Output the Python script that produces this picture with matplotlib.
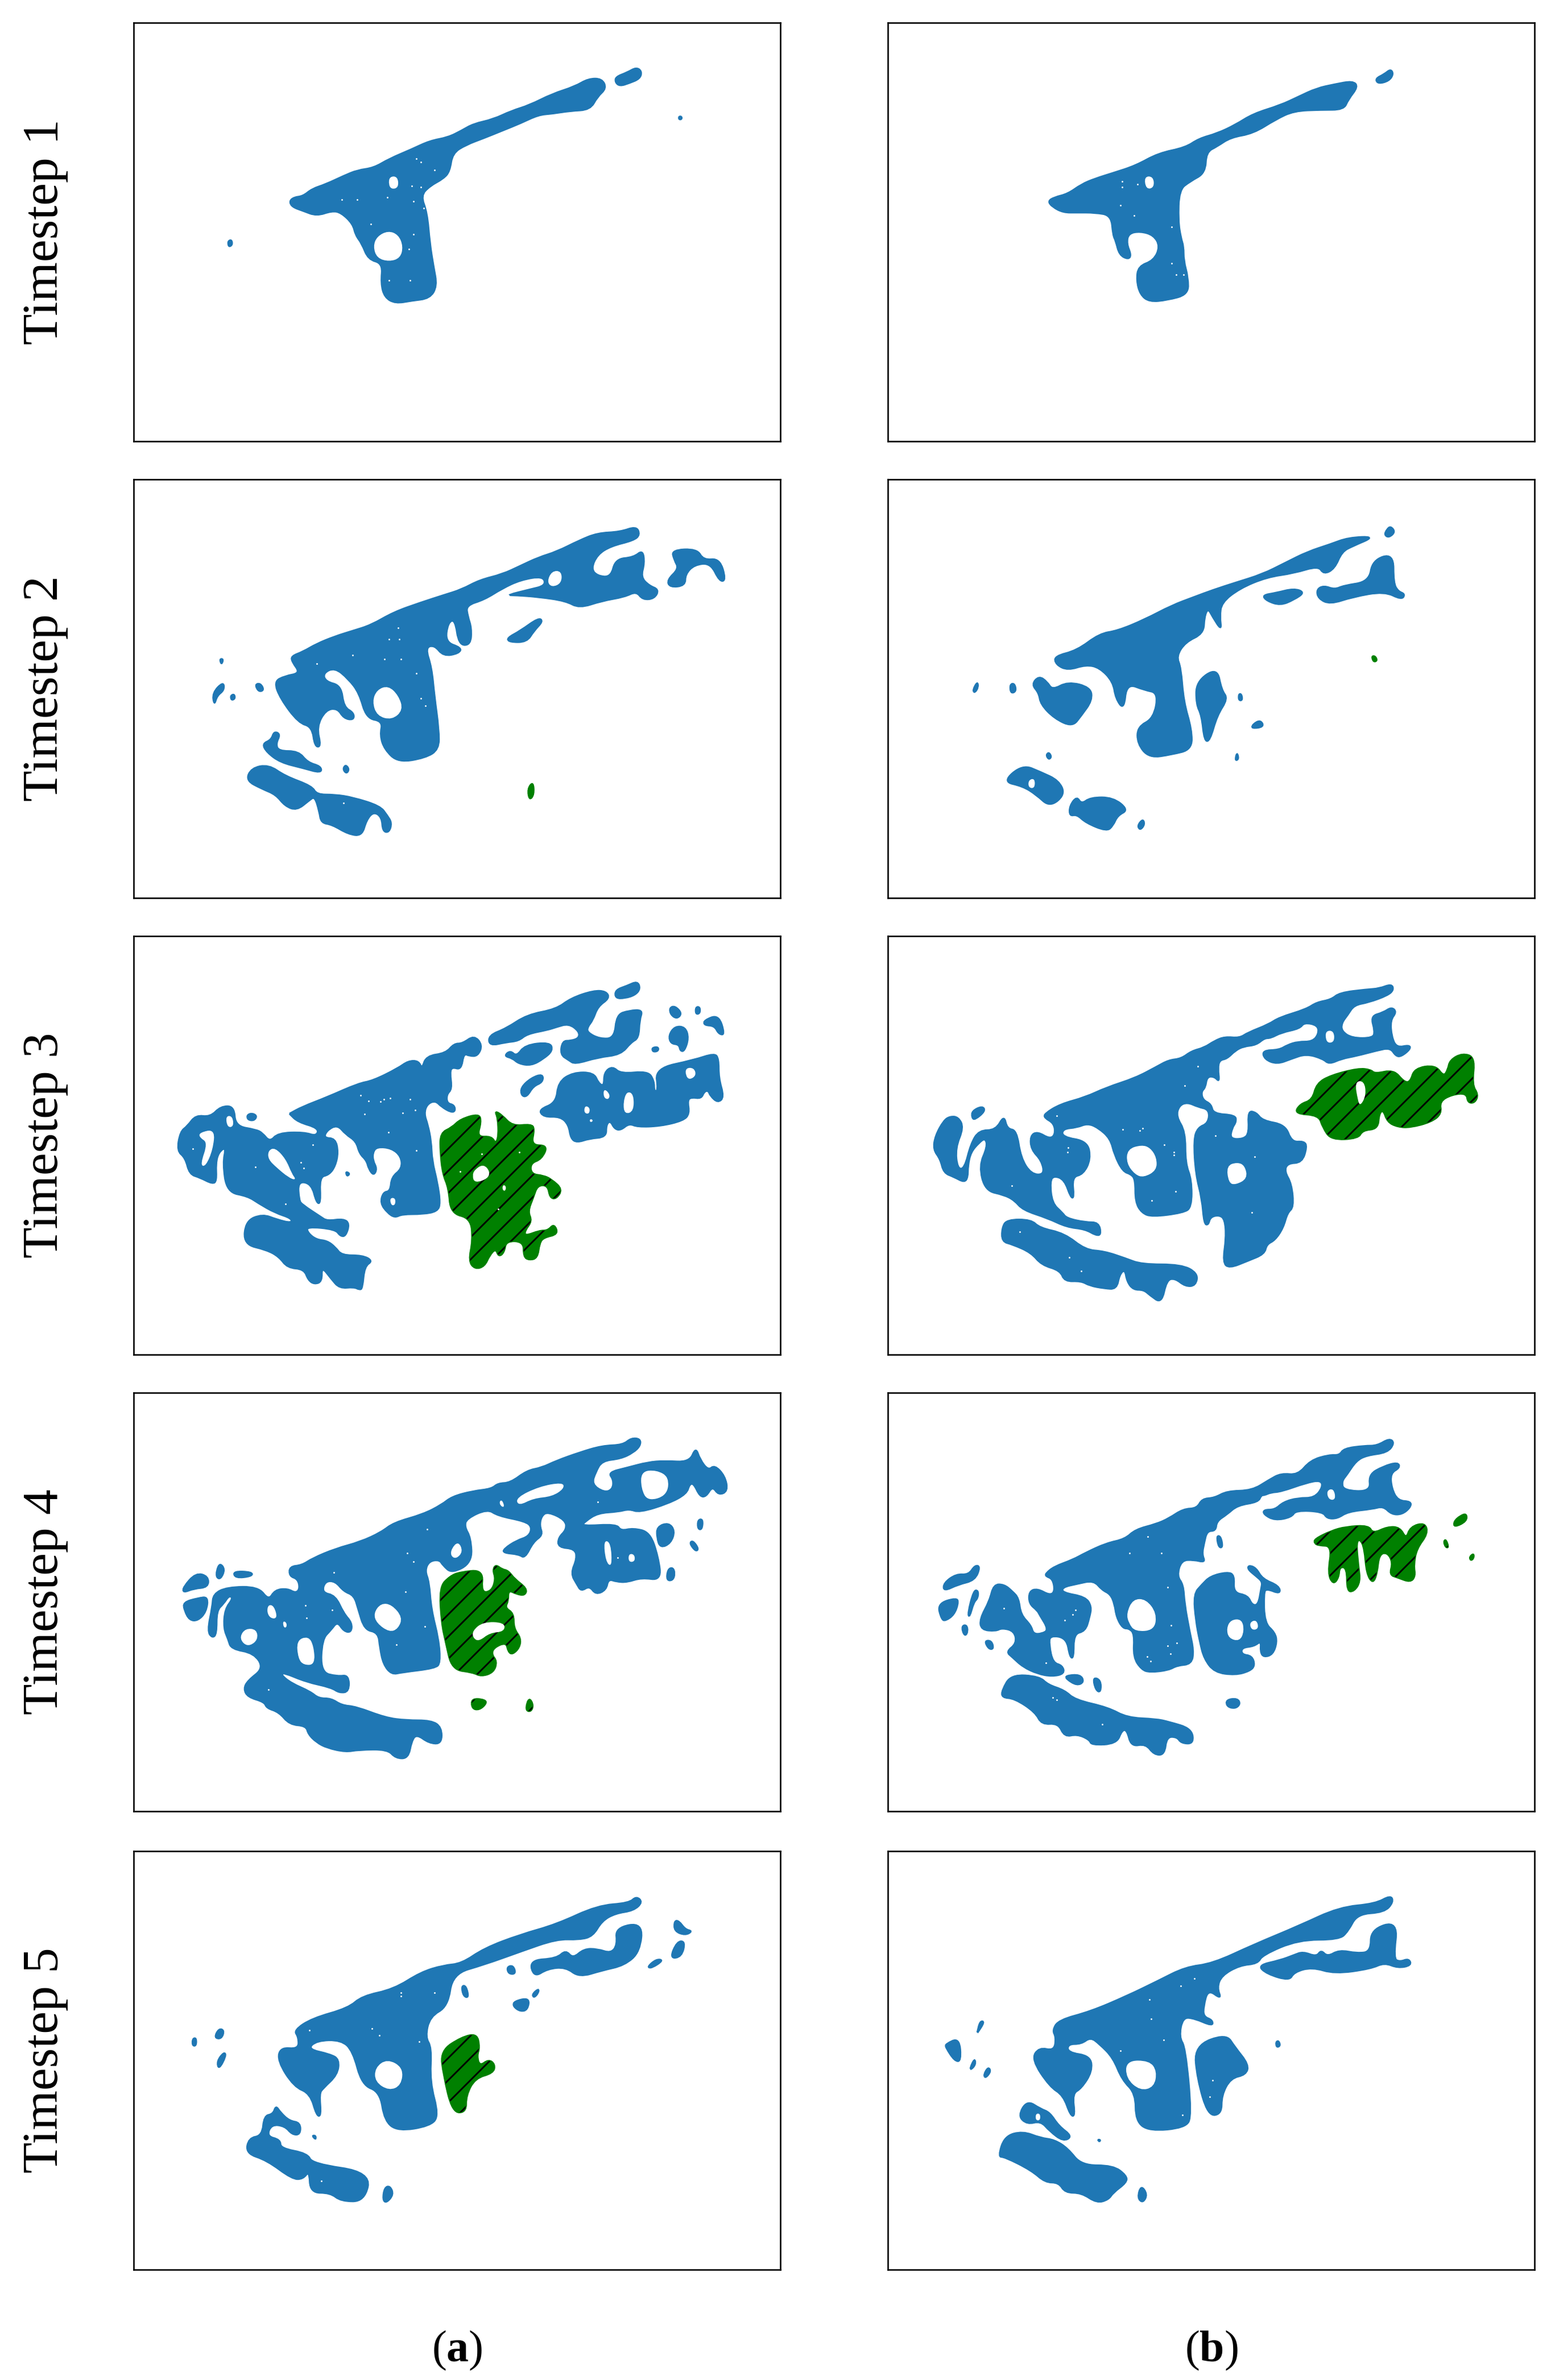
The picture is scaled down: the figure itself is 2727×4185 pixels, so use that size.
# -*- coding: utf-8 -*-
import matplotlib
matplotlib.use('Agg')
import matplotlib.pyplot as plt
from matplotlib.patches import PathPatch
from matplotlib.path import Path

plt.rcParams['font.family'] = ['Liberation Serif', 'DejaVu Serif']
plt.rcParams['mathtext.fontset'] = 'custom'
plt.rcParams['mathtext.rm'] = 'Liberation Serif'
plt.rcParams['mathtext.bf'] = 'Liberation Serif:bold'
plt.rcParams['hatch.linewidth'] = 0.9

BLUE = '#1f77b4'
row_labels = ['Timestep 1', 'Timestep 2', 'Timestep 3', 'Timestep 4', 'Timestep 5']
col_labels = [r'($\mathbf{a}$)', r'($\mathbf{b}$)']

# ---- outlines, each panel in its own units ----
# timestep 1
t1a_blue = [
    [(175,325),(180,318),(190,316),(200,303),(215,295),(235,280),(250,270),(268,266),(285,250),(310,233),(330,218),(350,212),(365,200),(378,188),(400,180),(420,165),(440,155),(465,135),(490,122),(505,108),(520,108),(525,125),(515,140),(507,163),(485,165),(465,170),(450,172),(430,187),(410,200),(390,213),(370,225),(355,240),(352,272),(345,285),(330,298),(320,315),(327,345),(330,400),(334,440),(338,475),(330,497),(310,501),(292,506),(280,495),(276,470),(278,435),(262,428),(255,400),(248,385),(245,365),(232,345),(222,342),(205,351),(190,342),(178,335)],
    [(535,105),(548,97),(558,88),(564,95),(562,108),(550,116),(540,121),(535,115)],
    [(605,175),(608,175),(608,180),(605,180)],
    [(107,396),(111,393),(112,402),(108,406)],
]
t1a_holes = [
    [(284,378),(295,385),(300,405),(297,425),(285,431),(272,425),(268,405),(272,388)],
    [(286,282),(294,282),(295,300),(288,303),(285,295)],
]
t1a_specks = [(315,250),(320,256),(335,270),(310,298),(320,300),(233,322),(250,322),(283,318),(312,325),(323,337),(265,365),(312,384),(307,410),(285,465),(308,465)]
t1b_blue = [
    [(1013,325),(1020,318),(1035,312),(1050,295),(1065,285),(1085,275),(1110,262),(1135,240),(1165,230),(1180,214),(1200,205),(1220,190),(1240,170),(1270,155),(1290,140),(1310,125),(1330,118),(1350,112),(1356,122),(1345,145),(1340,163),(1315,163),(1285,165),(1265,180),(1240,205),(1215,212),(1200,228),(1188,238),(1187,275),(1170,290),(1158,305),(1157,360),(1160,390),(1163,405),(1163,430),(1168,460),(1168,490),(1145,500),(1125,503),(1115,490),(1111,465),(1113,440),(1130,430),(1137,405),(1130,385),(1115,378),(1102,382),(1100,400),(1105,420),(1102,428),(1092,420),(1088,395),(1085,385),(1083,350),(1065,345),(1045,345),(1030,345),(1018,335)],
    [(1375,108),(1385,100),(1392,91),(1395,100),(1390,112),(1378,117)],
]
t1b_holes = [[(1120,282),(1129,282),(1130,300),(1122,303)]]
t1b_specks = [(1095,290),(1095,300),(1112,295),(1093,332),(1108,350),(1150,370),(1150,435),(1155,455),(1163,455)]

# timestep 2
t2a_blue = [
    [(177,1130),(190,1122),(205,1108),(225,1095),(245,1085),(265,1075),(290,1052),(320,1035),(345,1022),(365,1012),(385,995),(410,985),(430,970),(450,955),(470,945),(495,925),(515,912),(540,910),(558,900),(562,915),(555,925),(530,935),(515,950),(508,975),(515,988),(530,990),(535,958),(555,955),(565,942),(567,965),(563,990),(572,1005),(583,1012),(578,1028),(565,1030),(558,1015),(545,1025),(520,1032),(495,1045),(480,1032),(450,1025),(425,1022),(415,1022),(440,1012),(458,1005),(455,988),(430,995),(410,1010),(390,1030),(370,1040),(372,1060),(376,1080),(375,1110),(362,1110),(358,1065),(350,1070),(347,1105),(365,1115),(362,1125),(345,1130),(335,1110),(325,1115),(332,1150),(335,1200),(340,1260),(340,1295),(325,1310),(295,1318),(280,1295),(275,1270),(278,1245),(260,1240),(252,1195),(240,1170),(225,1150),(212,1160),(215,1175),(232,1182),(235,1220),(246,1230),(246,1243),(235,1240),(228,1222),(215,1225),(205,1255),(210,1290),(203,1290),(200,1255),(185,1248),(165,1205),(158,1175),(170,1165),(187,1160),(178,1140)],
    [(597,942),(625,940),(632,960),(650,957),(657,995),(650,998),(640,965),(622,968),(612,985),(612,1005),(595,1008),(592,995),(605,975),(600,960)],
    [(415,1098),(430,1085),(450,1062),(455,1068),(445,1085),(437,1105),(418,1105)],
    [(98,1135),(102,1135),(100,1145)],
    [(137,1180),(143,1178),(147,1190),(141,1193)],
    [(90,1195),(102,1175),(103,1190),(95,1200),(92,1217)],
    [(110,1200),(114,1197),(115,1205),(111,1208)],
    [(145,1285),(155,1278),(158,1263),(165,1268),(160,1285),(163,1298),(185,1298),(195,1318),(210,1325),(210,1337),(190,1328),(165,1318),(150,1300)],
    [(237,1322),(241,1330),(238,1338),(234,1330)],
    [(127,1350),(133,1328),(152,1322),(170,1342),(200,1360),(205,1375),(225,1375),(245,1380),(275,1395),(283,1412),(288,1425),(285,1442),(278,1440),(277,1415),(268,1405),(260,1420),(255,1448),(240,1445),(222,1428),(210,1425),(208,1405),(203,1378),(197,1385),(183,1403),(170,1395),(160,1375),(145,1365)],
]
t2a_holes = [
    [(465,980),(475,980),(475,1000),(465,1007),(460,998)],
    [(284,1183),(295,1200),(300,1225),(288,1242),(272,1235),(267,1210),(272,1190)],
]
t2a_green = [[(438,1365),(444,1352),(445,1375),(440,1385)]]
t2a_specks = [(295,1080),(285,1100),(296,1100),(205,1143),(245,1128),(280,1135),(298,1135),(315,1160),(320,1205),(325,1218),(235,1390)]
t2b_blue = [
    [(1020,1130),(1045,1120),(1070,1090),(1090,1085),(1120,1065),(1150,1040),(1175,1025),(1195,1013),(1220,1000),(1250,985),(1275,965),(1300,945),(1325,932),(1345,920),(1375,918),(1350,935),(1338,945),(1330,975),(1318,985),(1312,970),(1285,983),(1255,990),(1225,1010),(1205,1035),(1203,1060),(1205,1085),(1195,1060),(1190,1045),(1186,1060),(1185,1090),(1165,1105),(1155,1130),(1160,1150),(1163,1210),(1172,1260),(1172,1295),(1150,1304),(1125,1310),(1112,1285),(1112,1255),(1130,1240),(1135,1195),(1120,1190),(1100,1178),(1097,1225),(1088,1205),(1085,1175),(1070,1150),(1055,1145),(1035,1155),(1022,1145)],
    [(1250,1022),(1265,1018),(1285,1010),(1297,1017),(1285,1030),(1270,1040),(1255,1032)],
    [(1310,1012),(1318,1005),(1330,1012),(1340,1005),(1368,998),(1372,960),(1395,948),(1395,1000),(1400,1015),(1408,1020),(1404,1030),(1385,1015),(1350,1025),(1325,1038),(1312,1028)],
    [(1388,905),(1392,900),(1397,910),(1390,920),(1385,915)],
    [(930,1190),(935,1175),(936,1185),(932,1195)],
    [(971,1180),(976,1178),(978,1192),(972,1196)],
    [(1224,1197),(1227,1197),(1228,1208),(1224,1208)],
    [(1240,1250),(1248,1243),(1252,1255),(1238,1258)],
    [(1014,1300),(1017,1308),(1014,1313),(1011,1305)],
    [(1222,1300),(1224,1312),(1220,1315)],
    [(995,1180),(1003,1165),(1012,1175),(1018,1190),(1035,1175),(1060,1185),(1062,1208),(1050,1235),(1040,1255),(1020,1240),(1005,1215),(1003,1195)],
    [(1177,1175),(1200,1150),(1205,1190),(1212,1205),(1200,1235),(1192,1280),(1186,1280),(1183,1235),(1177,1215)],
    [(963,1352),(985,1322),(1005,1335),(1025,1350),(1032,1375),(1015,1397),(1000,1375),(985,1360)],
    [(1037,1395),(1045,1378),(1050,1392),(1060,1380),(1085,1380),(1102,1402),(1090,1412),(1085,1430),(1078,1440),(1055,1425),(1045,1410),(1037,1413)],
    [(1112,1430),(1118,1418),(1120,1428),(1115,1438)],
]
t2b_holes = [
    [(992,1350),(998,1347),(998,1363),(992,1362)],
]
t2b_green = [[(1371,1130),(1375,1130),(1377,1138),(1373,1140)]]

# timestep 3
t3a_blue = [
    [(380,660),(410,635),(470,600),(545,550),(580,540),(640,495),(665,468),(690,468),(698,498),(708,450),(755,440),(775,405),(795,405),(823,375),(843,410),(832,450),(812,450),(798,440),(792,500),(770,490),(765,510),(770,570),(757,590),(758,622),(775,628),(778,650),(768,655),(745,635),(730,612),(710,625),(703,660),(712,700),(720,760),(722,830),(735,910),(742,985),(735,1015),(700,1025),(650,1025),(633,1038),(615,1020),(598,985),(605,945),(622,942),(625,890),(650,860),(648,815),(625,785),(590,780),(580,800),(580,830),(590,860),(582,885),(570,860),(565,830),(548,805),(540,760),(515,735),(495,700),(470,720),(462,748),(490,750),(497,800),(490,850),(475,882),(452,890),(455,985),(445,985),(433,915),(400,905),(403,975),(410,990),(455,1035),(470,1050),(510,1042),(524,1060),(515,1105),(502,1105),(490,1080),(420,1070),(425,1095),(445,1118),(470,1122),(490,1145),(505,1175),(555,1175),(580,1195),(560,1215),(555,1295),(548,1300),(535,1290),(500,1295),(480,1260),(457,1215),(458,1270),(440,1280),(425,1265),(415,1225),(375,1220),(355,1180),(325,1155),(270,1135),(275,1050),(315,1025),(350,1045),(385,1058),(385,1040),(345,1020),(305,985),(280,960),(230,945),(220,840),(228,780),(210,800),(203,840),(205,905),(195,915),(165,892),(140,880),(130,820),(110,795),(118,725),(135,705),(155,665),(190,672),(215,633),(247,633),(250,705),(300,718),(315,730),(333,763),(352,730),(415,727),(445,742),(450,712),(400,690),(380,660)],
    [(278,665),(290,658),(302,668),(295,685),(280,682)],
    [(515,870),(525,878),(518,888)],
    [(858,375),(900,350),(950,300),(1020,280),(1055,240),(1110,212),(1140,215),(1148,240),(1120,270),(1108,320),(1095,345),(1095,365),(1125,388),(1160,385),(1165,300),(1195,285),(1228,282),(1220,320),(1218,385),(1200,400),(1175,445),(1120,455),(1065,480),(1050,465),(1030,445),(1035,395),(1055,395),(1075,385),(1075,360),(1050,332),(1020,345),(1000,355),(950,370),(930,395),(900,400),(860,413)],
    [(1162,210),(1190,195),(1215,178),(1222,205),(1210,228),(1185,240),(1162,240)],
    [(895,450),(910,430),(925,452),(945,410),(1005,400),(1012,430),(990,460),(960,485),(930,478),(915,458)],
    [(1292,275),(1305,268),(1322,295),(1310,315),(1295,300)],
    [(1355,272),(1365,272),(1365,295),(1355,298)],
    [(1375,320),(1410,300),(1425,373),(1410,370),(1400,340),(1375,338)],
    [(1290,375),(1305,342),(1330,345),(1338,385),(1328,432),(1318,432),(1315,408),(1295,405)],
    [(1250,420),(1265,417),(1265,432),(1252,435)],
    [(935,565),(960,530),(988,515),(988,545),(965,560),(950,598),(937,595)],
    [(978,645),(1020,620),(1025,545),(1060,510),(1110,510),(1122,550),(1135,560),(1135,510),(1155,487),(1175,515),(1240,505),(1255,540),(1255,580),(1265,575),(1258,495),(1350,465),(1400,440),(1410,460),(1410,530),(1423,600),(1408,620),(1390,595),(1385,575),(1375,580),(1368,605),(1345,600),(1335,610),(1340,660),(1325,685),(1270,705),(1215,708),(1195,695),(1175,720),(1160,715),(1150,685),(1140,700),(1140,745),(1100,750),(1070,765),(1055,750),(1050,700),(1030,670),(990,672)],
]
t3a_holes = [
    [(165,730),(200,718),(195,790),(178,850),(167,845),(185,765),(165,745)],
    [(228,670),(242,670),(245,705),(232,708)],
    [(330,795),(345,785),(370,825),(385,880),(395,900),(378,890),(350,855),(330,825)],
    [(622,968),(633,968),(633,990),(625,992)],
    [(1332,495),(1350,495),(1355,520),(1340,535),(1332,520)],
    [(1190,580),(1205,590),(1205,650),(1185,660),(1182,620)],
    [(1090,632),(1100,640),(1098,660),(1088,655)],
    [(1102,680),(1108,685),(1102,690)],
    [(1135,570),(1148,590),(1145,607),(1135,600)],
]
t3a_green = [
    [(742,730),(770,710),(790,680),(835,660),(840,690),(830,745),(865,742),(875,770),(882,740),(880,675),(873,650),(890,665),(915,705),(960,698),(968,715),(960,775),(1000,775),(985,825),(958,840),(960,880),(990,885),(1010,900),(1035,935),(1020,970),(1005,965),(1000,920),(975,920),(965,965),(952,1015),(962,1050),(945,1085),(945,1105),(980,1085),(1000,1085),(1015,1060),(1025,1098),(990,1110),(980,1130),(975,1185),(955,1192),(942,1180),(942,1125),(900,1122),(895,1165),(882,1180),(875,1150),(860,1175),(848,1215),(825,1225),(810,1195),(820,1120),(815,1040),(767,1022),(762,930),(748,880),(742,800)],
]
t3a_green_holes = [
    [(825,865),(845,845),(860,870),(855,895),(825,910),(820,885)],
    [(893,920),(899,925),(897,940),(892,935)],
]
t3a_specks = [(550,592),(570,613),(598,615),(606,608),(621,603),(670,608),(560,662),(651,657),(682,646),(617,728),(684,793),(436,772),(407,838),(414,858),(298,854),(148,788),(842,805),(931,800),(789,871),(881,1007),(370,988)]
t3b_blue = [
    [(392,660),(430,625),(490,600),(540,565),(610,530),(660,490),(690,465),(720,460),(745,432),(775,420),(800,395),(825,380),(860,385),(880,365),(930,335),(955,310),(1020,280),(1045,255),(1080,245),(1100,220),(1165,208),(1195,205),(1225,188),(1230,210),(1215,230),(1170,255),(1135,265),(1120,300),(1105,330),(1105,360),(1130,385),(1180,385),(1185,360),(1175,305),(1205,292),(1225,272),(1237,290),(1222,320),(1225,380),(1237,420),(1268,410),(1270,425),(1248,452),(1235,450),(1222,420),(1190,430),(1140,450),(1105,460),(1075,480),(1060,460),(1020,442),(985,460),(950,480),(920,462),(915,430),(955,428),(975,410),(1000,398),(1035,398),(1050,370),(1048,338),(1015,328),(1005,350),(960,365),(935,385),(920,385),(900,410),(870,415),(850,430),(830,460),(812,465),(808,495),(812,545),(800,525),(782,525),(778,565),(768,580),(772,610),(792,625),(797,660),(850,665),(852,690),(842,712),(837,752),(870,752),(883,730),(880,650),(900,655),(915,685),(970,700),(985,763),(1015,760),(1022,780),(1010,838),(975,840),(968,870),(985,915),(990,1000),(975,1020),(965,1075),(945,1120),(925,1135),(920,1170),(880,1195),(835,1222),(820,1200),(828,1110),(825,1045),(812,1028),(790,1035),(785,1065),(775,1060),(770,970),(755,880),(750,755),(760,710),(785,695),(788,645),(760,635),(735,618),(715,630),(708,670),(730,725),(730,840),(745,900),(745,1000),(725,1020),(650,1035),(625,1020),(610,980),(610,900),(600,880),(580,870),(560,810),(550,750),(520,710),(495,695),(470,710),(435,715),(435,745),(495,760),(503,825),(485,880),(458,890),(463,965),(455,965),(440,900),(415,885),(405,905),(410,985),(435,1020),(445,1040),(490,1055),(522,1055),(528,1100),(515,1102),(490,1080),(445,1072),(400,1040),(340,1010),(320,975),(295,955),(250,940),(235,850),(255,780),(250,748),(235,765),(215,800),(208,850),(208,890),(200,910),(175,890),(150,875),(142,825),(125,790),(130,740),(150,685),(165,670),(185,672),(198,710),(178,785),(183,860),(200,860),(215,770),(235,720),(275,720),(295,665),(302,715),(325,720),(335,820),(360,880),(392,882),(385,830),(360,790),(358,740),(375,725),(405,752),(418,735),(415,695),(392,675)],
    [(218,650),(243,632),(250,650),(225,682),(218,675)],
    [(290,1075),(302,1045),(360,1045),(380,1075),(440,1095),(490,1155),(535,1160),(585,1185),(625,1208),(720,1208),(760,1240),(755,1285),(730,1288),(705,1258),(685,1265),(673,1350),(645,1320),(630,1300),(605,1300),(590,1270),(585,1225),(572,1245),(565,1298),(535,1295),(500,1285),(480,1268),(440,1270),(430,1230),(385,1210),(360,1165),(315,1135),(290,1125)],
]
t3b_holes = [
    [(592,790),(625,775),(645,785),(660,820),(660,865),(630,890),(610,880),(590,840)],
    [(1068,360),(1085,360),(1087,395),(1075,402),(1068,390)],
    [(830,850),(855,838),(872,850),(878,895),(850,917),(835,910)],
]
t3b_green = [
    [(992,660),(1005,625),(1035,610),(1045,550),(1080,520),(1145,495),(1175,500),(1185,515),(1230,500),(1255,545),(1270,545),(1280,495),(1330,483),(1350,525),(1360,500),(1365,465),(1395,440),(1425,455),(1418,555),(1433,590),(1425,620),(1408,620),(1405,585),(1370,590),(1340,615),(1345,660),(1320,690),(1270,710),(1240,708),(1215,690),(1205,645),(1195,660),(1192,715),(1155,720),(1145,750),(1080,755),(1060,710),(1050,665)],
]
t3b_green_holes = [[(1138,545),(1158,542),(1163,590),(1150,630),(1145,610)]]
t3b_specks = [(422,668),(580,717),(628,712),(621,722),(760,488),(728,558),(802,740),(680,772),(703,800),(703,810),(449,783),(447,800),(897,816),(707,942),(650,975),(890,1018),(333,1090),(452,1182),(480,1232),(313,922)]

# timestep 4
t4a_blue = [
    [(380,655),(410,650),(435,625),(490,590),(550,565),(600,530),(630,495),(700,465),(745,430),(770,400),(820,380),(865,372),(880,352),(910,350),(950,305),(985,295),(1020,270),(1075,240),(1130,215),(1180,212),(1200,187),(1222,190),(1222,215),(1205,240),(1175,262),(1130,270),(1115,310),(1105,355),(1135,385),(1155,375),(1158,340),(1145,312),(1190,295),(1240,275),(1280,270),(1340,275),(1355,220),(1365,265),(1385,305),(1400,285),(1425,325),(1432,380),(1410,395),(1395,362),(1380,400),(1365,400),(1350,352),(1340,355),(1333,390),(1290,425),(1220,458),(1195,445),(1170,455),(1120,460),(1090,490),(1080,508),(1165,500),(1175,525),(1205,515),(1245,530),(1265,620),(1272,705),(1225,695),(1190,712),(1165,710),(1145,700),(1140,740),(1115,757),(1100,725),(1080,745),(1070,720),(1055,680),(1070,625),(1065,590),(1025,585),(1025,550),(1045,520),(1042,485),(1000,455),(985,470),(980,505),(988,540),(965,565),(945,625),(930,610),(893,605),(895,590),(925,560),(955,545),(962,510),(945,490),(880,470),(855,445),(805,480),(800,510),(815,550),(818,640),(770,680),(748,650),(740,630),(715,635),(705,670),(715,710),(720,810),(738,920),(742,1005),(730,1025),(650,1040),(625,1048),(605,1010),(597,950),(593,895),(560,885),(545,810),(535,760),(510,745),(490,708),(465,708),(458,750),(490,760),(510,825),(530,860),(528,895),(510,890),(495,855),(480,885),(458,920),(455,1040),(495,1055),(522,1050),(523,1110),(500,1115),(480,1095),(420,1075),(365,1040),(360,1050),(385,1080),(430,1110),(450,1135),(480,1135),(505,1160),(540,1165),(610,1205),(660,1215),(720,1215),(745,1240),(745,1300),(715,1298),(685,1265),(673,1290),(665,1353),(635,1353),(615,1320),(545,1322),(515,1330),(470,1315),(445,1295),(425,1265),(420,1235),(380,1230),(355,1185),(325,1170),(320,1148),(280,1130),(270,1100),(280,1070),(318,1025),(295,970),(240,955),(233,920),(222,880),(225,810),(245,770),(235,760),(222,790),(205,815),(205,900),(195,915),(183,890),(195,800),(197,755),(230,730),(305,728),(330,778),(345,740),(375,735),(395,752),(405,735),(400,700),(380,690)],
    [(125,730),(155,678),(185,690),(185,730),(150,735),(125,750)],
    [(125,785),(160,770),(185,765),(180,820),(160,852),(140,850),(128,815)],
    [(205,670),(213,642),(225,665),(215,700),(205,695)],
    [(245,672),(290,675),(290,690),(250,697)],
    [(1262,510),(1290,495),(1305,525),(1295,570),(1270,587),(1262,550)],
    [(1360,485),(1372,482),(1370,520),(1360,518)],
    [(1340,570),(1348,560),(1362,590),(1355,600)],
    [(1288,665),(1300,658),(1305,680),(1300,705),(1285,705)],
]
t4a_holes = [
    [(1225,310),(1260,305),(1290,330),(1285,395),(1240,415),(1225,370)],
    [(925,405),(980,365),(1035,350),(1038,370),(1010,398),(965,405),(930,432)],
    [(885,418),(890,415),(895,438),(887,432)],
    [(770,590),(785,565),(795,600),(780,625),(768,615)],
    [(583,825),(600,790),(625,795),(650,840),(640,880),(620,892),(590,860)],
    [(330,795),(342,800),(350,842),(335,842),(327,820)],
    [(365,855),(372,860),(372,875),(367,875)],
    [(262,910),(275,882),(300,885),(303,920),(285,942),(270,935)],
    [(398,925),(425,910),(437,945),(440,1010),(415,1012),(402,990)],
    [(1135,560),(1150,570),(1153,655),(1140,635)],
    [(1195,610),(1207,612),(1208,635),(1195,637)],
]
t4a_green = [
    [(740,730),(765,690),(790,675),(845,667),(840,750),(865,745),(875,700),(868,668),(875,648),(890,665),(905,670),(920,700),(950,735),(945,760),(925,755),(905,740),(905,780),(897,805),(918,825),(918,880),(935,915),(932,950),(915,975),(905,965),(900,930),(870,950),(865,975),(878,1000),(870,1040),(840,1055),(820,1040),(770,1030),(755,930),(745,860)],
    [(817,1135),(850,1140),(852,1155),(835,1177),(818,1172)],
    [(950,1150),(957,1135),(965,1160),(960,1182),(948,1180)],
]
t4a_green_holes = [[(820,890),(845,858),(895,860),(895,890),(860,895),(835,925),(822,915)]]
t4a_specks = [(710,518),(663,605),(677,637),(487,677),(658,747),(418,797),(482,813),(421,841),(705,873),(637,939),(329,1103),(1120,419),(1168,622)]
t4b_blue = [
    [(395,680),(415,655),(460,630),(490,605),(540,570),(585,555),(610,520),(660,500),(690,480),(725,445),(758,443),(770,408),(800,405),(830,380),(890,378),(930,340),(960,315),(1000,322),(1030,268),(1075,248),(1100,250),(1110,225),(1160,215),(1190,215),(1220,188),(1232,205),(1215,240),(1165,250),(1140,270),(1118,320),(1105,345),(1110,378),(1175,382),(1170,320),(1205,290),(1240,275),(1245,295),(1222,315),(1225,370),(1240,415),(1272,418),(1270,440),(1250,465),(1225,465),(1205,435),(1180,445),(1120,455),(1095,480),(1070,480),(1060,455),(995,450),(985,475),(945,487),(918,465),(918,448),(945,448),(965,420),(1000,405),(1040,405),(1060,365),(1055,340),(1020,350),(960,382),(935,385),(920,395),(912,395),(905,420),(855,432),(830,465),(805,490),(803,525),(782,525),(775,570),(770,610),(778,640),(750,630),(720,632),(710,690),(725,720),(728,790),(740,890),(750,960),(745,1010),(710,1015),(690,1032),(645,1040),(625,1030),(605,985),(608,900),(595,880),(580,880),(565,840),(560,790),(550,755),(530,740),(510,705),(470,718),(435,730),(435,750),(490,765),(505,800),(500,840),(490,890),(462,900),(462,988),(453,985),(445,915),(405,905),(403,940),(412,1005),(435,1015),(440,1045),(410,1055),(375,1045),(340,1020),(315,985),(300,965),(325,935),(320,890),(290,878),(275,890),(240,885),(237,845),(260,780),(270,720),(295,720),(315,745),(330,770),(335,830),(360,870),(365,900),(385,900),(402,885),(380,830),(375,815),(355,790),(355,745),(375,735),(405,760),(417,745),(412,700),(395,690)],
    [(750,755),(770,720),(790,690),(830,675),(848,685),(845,750),(880,760),(890,795),(905,795),(912,735),(915,710),(900,690),(880,665),(882,650),(900,660),(915,700),(955,725),(958,755),(925,735),(918,750),(920,860),(945,895),(950,930),(940,975),(918,985),(910,965),(912,925),(895,945),(865,950),(865,975),(890,980),(897,1015),(885,1035),(850,1050),(800,1040),(775,990),(765,930),(755,850)],
    [(805,543),(815,545),(820,585),(810,585)],
    [(150,715),(180,682),(210,685),(225,650),(238,655),(225,705),(185,720),(150,745)],
    [(222,742),(233,742),(232,770),(222,785),(212,840),(208,825)],
    [(135,790),(182,768),(185,790),(175,830),(155,852),(145,848)],
    [(195,870),(205,868),(208,890),(202,908),(195,890)],
    [(248,925),(265,925),(270,955),(258,955)],
    [(290,1105),(312,1048),(380,1055),(400,1085),(440,1105),(465,1140),(545,1168),(590,1205),(660,1210),(690,1220),(745,1245),(750,1300),(720,1298),(710,1275),(685,1275),(680,1340),(655,1340),(635,1300),(600,1310),(590,1250),(578,1250),(565,1300),(505,1305),(500,1285),(470,1265),(440,1275),(425,1225),(385,1230),(370,1185),(320,1135),(290,1132)],
    [(443,1052),(478,1048),(487,1075),(470,1088),(445,1065)],
    [(508,1058),(527,1068),(527,1113),(515,1105)],
    [(828,1140),(855,1135),(862,1155),(850,1172),(830,1165)],
]
t4b_holes = [
    [(830,880),(840,850),(865,848),(870,890),(860,925),(835,915)],
    [(885,860),(900,850),(905,880),(890,885)],
    [(590,825),(605,775),(635,775),(660,825),(655,885),(610,890),(595,860)],
    [(1070,380),(1085,372),(1090,410),(1075,410)],
]
t4b_green = [
    [(1040,555),(1080,525),(1115,510),(1170,505),(1180,535),(1215,510),(1245,512),(1260,555),(1270,510),(1305,495),(1312,535),(1285,590),(1278,650),(1282,690),(1270,712),(1240,695),(1220,685),(1228,640),(1215,603),(1195,610),(1190,680),(1180,717),(1165,680),(1160,590),(1150,555),(1140,565),(1145,650),(1150,710),(1135,745),(1118,745),(1118,660),(1100,655),(1098,695),(1085,720),(1072,680),(1082,580),(1050,578),(1040,570)],
    [(1375,490),(1390,470),(1405,462),(1405,490),(1375,512)],
    [(1350,565),(1355,555),(1362,585),(1355,585)],
    [(1412,620),(1422,607),(1422,625),(1415,633)],
]
t4b_specks = [(640,545),(596,605),(672,605),(687,731),(295,807),(467,813),(459,829),(440,851),(696,868),(710,933),(688,944),(695,972),(638,983),(647,999),(396,1005),(412,1132),(421,1141),(531,1230)]

# timestep 5
t5a_blue = [
    [(180,550),(200,515),(240,485),(255,450),(290,430),(320,380),(345,360),(365,355),(390,310),(430,270),(470,240),(515,185),(550,178),(558,158),(565,175),(555,200),(535,208),(520,230),(510,275),(495,285),(470,283),(430,320),(390,358),(355,385),(350,480),(330,510),(325,570),(332,600),(330,700),(340,800),(330,830),(295,845),(280,815),(275,730),(255,710),(245,610),(232,578),(205,580),(195,605),(220,620),(230,635),(228,680),(212,720),(208,735),(210,800),(205,800),(198,735),(180,715),(162,640),(165,600),(185,605),(185,570)],
    [(440,345),(470,340),(480,315),(488,340),(500,312),(515,312),(530,325),(537,300),(535,250),(565,235),(562,320),(545,360),(520,375),(495,395),(480,365),(460,370),(445,395)],
    [(600,230),(605,230),(612,255),(620,260),(612,272),(600,260)],
    [(595,340),(603,290),(612,290),(608,335)],
    [(570,365),(580,342),(588,345),(575,368)],
    [(415,365),(422,360),(425,385),(417,385)],
    [(365,420),(370,420),(373,455),(367,450)],
    [(423,465),(440,455),(438,490),(430,495),(422,480)],
    [(443,445),(450,428),(450,440),(445,455)],
    [(92,572),(97,545),(103,550),(100,575)],
    [(68,575),(72,572),(72,595),(68,595)],
    [(95,640),(103,613),(105,625),(97,665)],
    [(147,800),(157,795),(160,770),(165,790),(175,815),(187,820),(187,855),(178,855),(170,830),(155,825),(150,860),(165,870),(165,895),(195,910),(200,940),(265,965),(258,1050),(232,1050),(220,1025),(198,1025),(197,960),(190,985),(178,985),(150,930),(127,910),(130,865),(145,858)],
    [(200,858),(204,858),(204,870)],
    [(280,1010),(286,1005),(290,1030),(282,1055),(278,1045)],
]
t5a_holes = [[(270,660),(283,635),(300,660),(298,710),(285,725),(270,700)]]
t5a_green = [[(342,610),(365,570),(382,560),(385,600),(382,625),(385,655),(395,635),(402,650),(400,675),(380,690),(370,740),(370,790),(355,790),(345,680)]]
t5a_specks = [(298,440),(335,440),(298,450),(197,550),(266,545),(274,565),(318,583),(210,990)]
t5b_blue = [
    [(1018,550),(1025,520),(1060,495),(1100,450),(1135,405),(1165,365),(1195,355),(1240,300),(1290,245),(1335,190),(1375,180),(1392,155),(1395,175),(1385,205),(1355,210),(1345,260),(1335,285),(1290,285),(1250,330),(1245,355),(1225,360),(1205,390),(1200,425),(1205,460),(1190,430),(1185,480),(1185,510),(1195,520),(1195,538),(1175,515),(1162,512),(1158,570),(1165,600),(1172,800),(1165,835),(1125,845),(1110,815),(1110,735),(1095,695),(1085,630),(1070,590),(1060,570),(1050,590),(1035,590),(1035,615),(1060,625),(1062,670),(1050,720),(1040,735),(1043,800),(1038,800),(1030,740),(1015,715),(995,635),(1003,600),(1020,610),(1022,570)],
    [(1245,360),(1270,345),(1285,330),(1295,320),(1310,335),(1315,315),(1322,335),(1335,315),(1355,325),(1370,320),(1370,255),(1400,230),(1395,340),(1402,350),(1412,340),(1415,360),(1400,368),(1385,352),(1370,370),(1330,385),(1305,365),(1285,380),(1280,405),(1255,385)],
    [(1175,595),(1210,560),(1220,600),(1235,650),(1232,680),(1215,690),(1205,740),(1205,795),(1190,800),(1178,690)],
    [(935,555),(938,523),(943,525),(935,558)],
    [(1265,585),(1268,580),(1270,595),(1266,600)],
    [(900,590),(915,572),(917,640),(910,640),(900,600)],
    [(927,660),(932,632),(933,650),(928,665)],
    [(942,680),(947,657),(950,670),(944,690)],
    [(980,800),(990,755),(1005,780),(1015,790),(1025,830),(1040,860),(1030,875),(1015,845),(1005,815),(990,825)],
    [(1068,870),(1071,870),(1070,876)],
    [(958,920),(965,860),(985,845),(1005,865),(1020,870),(1035,895),(1050,945),(1085,945),(1100,975),(1100,995),(1085,1025),(1080,1045),(1067,1055),(1050,1025),(1032,1025),(1025,995),(1010,995),(995,960),(965,920)],
    [(1112,1040),(1116,1003),(1123,1030),(1118,1055)],
]
t5b_holes = [
    [(1100,640),(1125,640),(1133,670),(1130,715),(1115,725),(1100,690)],
    [(1000,795),(1004,795),(1004,812),(1000,812)],
]
t5b_specks = [(1175,398),(1160,420),(1125,460),(1127,517),(1141,578),(1093,610),(1195,697),(1192,745),(1162,798)]

# pixel box of every panel and the limits of its outline units
left_px = [235, 1561]
width_px = 1137
top_px = [40, 843, 1646, 2449, 3255]
height_px = 736

panels = [
    (0, 0, (3, 717), (750, 9), t1a_blue, t1a_holes, [], [], t1a_specks),
    (0, 1, (836, 1551), (750, 9), t1b_blue, t1b_holes, [], [], t1b_specks),
    (1, 0, (3, 717), (1558, 817), t2a_blue, t2a_holes, t2a_green, [], t2a_specks),
    (1, 1, (836, 1551), (1558, 817), t2b_blue, t2b_holes, t2b_green, [], []),
    (2, 0, (6, 1558), (1536, 14), t3a_blue, t3a_holes, t3a_green, t3a_green_holes, t3a_specks),
    (2, 1, (16, 1568), (1536, 14), t3b_blue, t3b_holes, t3b_green, t3b_green_holes, t3b_specks),
    (3, 0, (6, 1558), (1546, 22), t4a_blue, t4a_holes, t4a_green, t4a_green_holes, t4a_specks),
    (3, 1, (16, 1568), (1546, 22), t4b_blue, t4b_holes, t4b_green, [], t4b_specks),
    (4, 0, (3, 717), (1250, 26), t5a_blue, t5a_holes, t5a_green, [], t5a_specks),
    (4, 1, (836, 1551), (1250, 26), t5b_blue, t5b_holes, [], [], t5b_specks),
]

W, H = 2727, 4185
DPI = 234
fig = plt.figure(figsize=(W / DPI, H / DPI), dpi=DPI, facecolor='white')


def rounded_path(poly):
    # the outline points act as control points of a closed quadratic curve
    n = len(poly)
    mid = [((poly[i][0] + poly[(i + 1) % n][0]) / 2, (poly[i][1] + poly[(i + 1) % n][1]) / 2) for i in range(n)]
    verts = [mid[-1]]
    codes = [Path.MOVETO]
    for i in range(n):
        verts += [poly[i], mid[i]]
        codes += [Path.CURVE3, Path.CURVE3]
    return Path(verts, codes)


def draw_outlines(ax, outlines, **kw):
    for poly in outlines:
        ax.add_patch(PathPatch(rounded_path(poly), **kw))


for row, col, xlim, ylim, blue, holes, green, green_holes, specks in panels:
    ax = fig.add_axes([left_px[col] / W, 1 - (top_px[row] + height_px) / H, width_px / W, height_px / H])
    draw_outlines(ax, blue, facecolor=BLUE, edgecolor=BLUE, linewidth=1.0)
    draw_outlines(ax, holes, facecolor='white', edgecolor='white', linewidth=0.5)
    draw_outlines(ax, green, facecolor='green', edgecolor='green', linewidth=1.0)
    draw_outlines(ax, green, facecolor='none', edgecolor='black', hatch='//', linewidth=0)
    draw_outlines(ax, green_holes, facecolor='white', edgecolor='white', linewidth=0.5)
    if specks:
        ax.scatter([p[0] for p in specks], [p[1] for p in specks], s=0.8, c='white', linewidths=0, zorder=3)
    ax.set_xlim(*xlim)
    ax.set_ylim(*ylim)
    ax.set_xticks([])
    ax.set_yticks([])
    for sp in ax.spines.values():
        sp.set_linewidth(0.8)

for row, label in enumerate(row_labels):
    fig.text(80 / W, 1 - (top_px[row] + height_px / 2) / H, label, rotation=90,
             ha='center', va='center', fontsize=27.5)

for col, label in enumerate(col_labels):
    fig.text((left_px[col] + width_px / 2) / W, 1 - 4133 / H, label,
             ha='center', va='center', fontsize=24)

fig.savefig('out.png', dpi=DPI)
